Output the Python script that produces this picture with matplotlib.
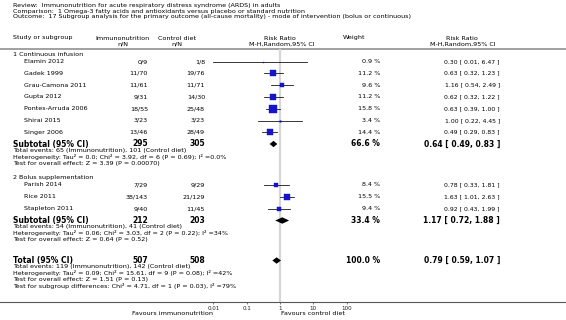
import matplotlib
matplotlib.use("Agg")
import matplotlib.pyplot as plt

# ---- data ----
title_lines = [
    "Review:  Immunonutrition for acute respiratory distress syndrome (ARDS) in adults",
    "Comparison:  1 Omega-3 fatty acids and antioxidants versus placebo or standard nutrition",
    "Outcome:  17 Subgroup analysis for the primary outcome (all-cause mortality) - mode of intervention (bolus or continuous)",
]
group_names = ["1 Continuous infusion", "2 Bolus supplementation"]

g1_studies = ["Elamin 2012", "Gadek 1999", "Grau-Camona 2011", "Gupta 2012",
              "Pontes-Arruda 2006", "Shirai 2015", "Singer 2006"]
g1_imm = ["0/9", "11/70", "11/61", "9/31", "18/55", "3/23", "13/46"]
g1_ctl = ["1/8", "19/76", "11/71", "14/30", "25/48", "3/23", "28/49"]
g1_weight = [0.9, 11.2, 9.6, 11.2, 15.8, 3.4, 14.4]
g1_rr = [0.30, 0.63, 1.16, 0.62, 0.63, 1.00, 0.49]
g1_lo = [0.01, 0.32, 0.54, 0.32, 0.39, 0.22, 0.29]
g1_hi = [6.47, 1.23, 2.49, 1.22, 1.00, 4.45, 0.83]

g2_studies = ["Parish 2014", "Rice 2011", "Stapleton 2011"]
g2_imm = ["7/29", "38/143", "9/40"]
g2_ctl = ["9/29", "21/129", "11/45"]
g2_weight = [8.4, 15.5, 9.4]
g2_rr = [0.78, 1.63, 0.92]
g2_lo = [0.33, 1.01, 0.43]
g2_hi = [1.81, 2.63, 1.99]

# subtotal 1, subtotal 2, total
pool_labels = ["Subtotal (95% CI)", "Subtotal (95% CI)", "Total (95% CI)"]
pool_imm = [295, 212, 507]
pool_ctl = [305, 203, 508]
pool_weight = [66.6, 33.4, 100.0]
pool_rr = [0.64, 1.17, 0.79]
pool_lo = [0.49, 0.72, 0.59]
pool_hi = [0.83, 1.88, 1.07]
pool_notes = [
    ["Total events: 65 (Immunonutrition), 101 (Control diet)",
     "Heterogeneity: Tau\u00b2 = 0.0; Chi\u00b2 = 3.92, df = 6 (P = 0.69); I\u00b2 =0.0%",
     "Test for overall effect: Z = 3.39 (P = 0.00070)"],
    ["Total events: 54 (Immunonutrition), 41 (Control diet)",
     "Heterogeneity: Tau\u00b2 = 0.06; Chi\u00b2 = 3.03, df = 2 (P = 0.22); I\u00b2 =34%",
     "Test for overall effect: Z = 0.64 (P = 0.52)"],
    ["Total events: 119 (Immunonutrition), 142 (Control diet)",
     "Heterogeneity: Tau\u00b2 = 0.09; Chi\u00b2 = 15.61, df = 9 (P = 0.08); I\u00b2 =42%",
     "Test for overall effect: Z = 1.51 (P = 0.13)",
     "Test for subgroup differences: Chi\u00b2 = 4.71, df = 1 (P = 0.03), I\u00b2 =79%"],
]
ticks = [0.01, 0.1, 1, 10, 100]
tick_labels = ["0.01", "0.1", "1", "10", "100"]

# ---- layout (pixel rows from top) ----
W, H = 566, 320
fs = 4.6
fsb = 5.5
blue = "#1414c8"

fig = plt.figure(figsize=(W / 100, H / 100), dpi=100)
ax0 = fig.add_axes([0, 0, 1, 1])
ax0.set_xlim(0, W)
ax0.set_ylim(H, 0)
ax0.axis("off")

axis_y = 302
ax = fig.add_axes([213.33 / W, (H - axis_y) / H, 133.33 / W, axis_y / H])
ax.set_xscale("log")
ax.set_xlim(0.01, 100)
ax.set_ylim(axis_y, 0)
ax.patch.set_alpha(0)
for s in ax.spines.values():
    s.set_visible(False)
ax.set_yticks([])
ax.set_xticks(ticks, tick_labels)
ax.minorticks_off()
ax.tick_params(axis="x", length=1.6, width=0.5, color="#444444", pad=1.2,
               labelsize=4.1, labelcolor="#222222")

# titles
for i, t in enumerate(title_lines):
    ax0.text(13, 5.3 + 5.7 * i, t, fontsize=fs, va="center", ha="left")

# column headers
hy1, hy2 = 38, 44
ax0.text(13, hy1, "Study or subgroup", fontsize=fs, va="center")
ax0.text(122.5, hy1, "Immunonutrition", fontsize=fs, va="center", ha="center")
ax0.text(122.5, hy2, "n/N", fontsize=fs, va="center", ha="center")
ax0.text(176.5, hy1, "Control diet", fontsize=fs, va="center", ha="center")
ax0.text(176.5, hy2, "n/N", fontsize=fs, va="center", ha="center")
ax0.text(280, hy1, "Risk Ratio", fontsize=fs, va="center", ha="center")
ax0.text(282, hy2, "M-H,Random,95% CI", fontsize=fs, va="center", ha="center")
ax0.text(354, hy1, "Weight", fontsize=fs, va="center", ha="center")
ax0.text(462, hy1, "Risk Ratio", fontsize=fs, va="center", ha="center")
ax0.text(463, hy2, "M-H,Random,95% CI", fontsize=fs, va="center", ha="center")
ax0.axhline(49.3, color="#9a9a9a", lw=1.3)
ax0.axhline(axis_y, color="#555555", lw=0.8)

# reference line at RR = 1
ax.plot([1, 1], [50, axis_y], color="#d6d6d6", lw=1.6, zorder=0)


def study_rows(ys, names, imm, ctl, wt, rr, lo, hi):
    for y, n, a, b, w, r, l, h in zip(ys, names, imm, ctl, wt, rr, lo, hi):
        ax0.text(24, y, n, fontsize=fs, va="center")
        ax0.text(148, y, a, fontsize=fs, va="center", ha="right")
        ax0.text(205, y, b, fontsize=fs, va="center", ha="right")
        ax0.text(380, y, f"{w:.1f} %", fontsize=fs, va="center", ha="right")
        ax0.text(500, y, f"{r:.2f} [ {l:.2f}, {h:.2f} ]", fontsize=fs - 0.2,
                 va="center", ha="right")
        ax.plot([l, h], [y, y], color="black", lw=0.55, zorder=2)
        side = max(0.45 * w, 1.0)
        ax.plot(r, y, marker="s", ms=side * 0.72, color=blue, mec=blue,
                mew=0.3, zorder=3)


def pooled_row(y, k):
    ax0.text(13, y, pool_labels[k], fontsize=fsb, fontweight="bold", va="center")
    ax0.text(148, y, str(pool_imm[k]), fontsize=fsb, fontweight="bold",
             va="center", ha="right")
    ax0.text(205, y, str(pool_ctl[k]), fontsize=fsb, fontweight="bold",
             va="center", ha="right")
    ax0.text(380, y, f"{pool_weight[k]:.1f} %", fontsize=fsb,
             fontweight="bold", va="center", ha="right")
    ax0.text(500, y, f"{pool_rr[k]:.2f} [ {pool_lo[k]:.2f}, {pool_hi[k]:.2f} ]",
             fontsize=fsb, fontweight="bold", va="center", ha="right")
    ax.fill([pool_lo[k], pool_rr[k], pool_hi[k], pool_rr[k]],
            [y, y - 3.2, y, y + 3.2], color="black", lw=0, zorder=3)
    for i, t in enumerate(pool_notes[k]):
        ax0.text(13, y + 6.4 + 6.4 * i, t, fontsize=fs, va="center")


# group 1
ax0.text(13, 54.8, group_names[0], fontsize=fs, va="center")
ys1 = [61.5 + 11.8 * i for i in range(len(g1_studies))]
study_rows(ys1, g1_studies, g1_imm, g1_ctl, g1_weight, g1_rr, g1_lo, g1_hi)
pooled_row(144, 0)

# group 2
ax0.text(13, 177.5, group_names[1], fontsize=fs, va="center")
ys2 = [185 + 11.8 * i for i in range(len(g2_studies))]
study_rows(ys2, g2_studies, g2_imm, g2_ctl, g2_weight, g2_rr, g2_lo, g2_hi)
pooled_row(220.5, 1)

# overall
pooled_row(260.5, 2)

# favours labels
ax0.text(213, 313.5, "Favours immunonutrition", fontsize=fs, va="center", ha="right")
ax0.text(281, 313.5, "Favours control diet", fontsize=fs, va="center", ha="left")

fig.savefig("out.png", dpi=100)
